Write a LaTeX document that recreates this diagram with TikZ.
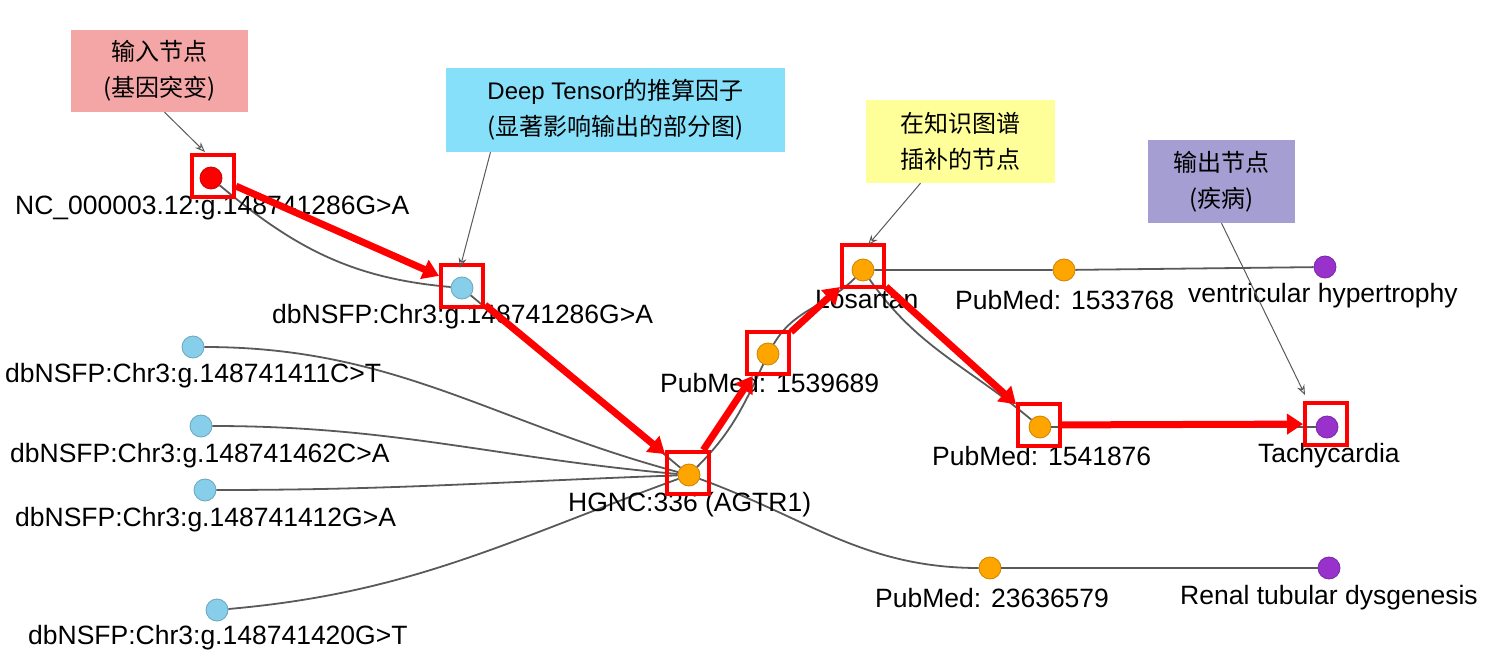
\documentclass[tikz,border=0pt]{standalone}
\usepackage{fontspec}
\setmainfont{Liberation Sans}
\newfontfamily\cjk{Noto Sans CJK SC}
\usetikzlibrary{arrows.meta}
\begin{document}
\begin{tikzpicture}[x=1pt,y=-1pt,
  every node/.style={font=\fontsize{26.5}{30}\selectfont},
  gnode/.style={circle,inner sep=0pt,minimum size=22pt,draw=#1!80!black,fill=#1,line width=0.8pt},
  lbl/.style={anchor=west,inner sep=0pt},
  edge/.style={draw=gray!70!black,line width=1.8pt},
  hl/.style={draw=red,line width=4pt,minimum size=42pt,inner sep=0pt},
  harrow/.style={draw=red,line width=7pt,-{Triangle[length=16pt,width=20pt]}},
  call/.style={draw=gray!70!black,line width=1pt,-{Stealth[length=10pt,width=8pt,open]}},
  cbox/.style={inner sep=0pt,align=center,font=\cjk\fontsize{24}{36}\selectfont}]
\definecolor{blu}{HTML}{87CEEB}
\definecolor{org}{HTML}{FFA500}
\definecolor{pur}{HTML}{9932CC}
\useasboundingbox (0,0) rectangle (1489,668);
% nodes
\node[gnode=red] (r) at (211,178) {};
\node[gnode=blu] (b1) at (462,288) {};
\node[gnode=blu] (b2) at (193,347) {};
\node[gnode=blu] (b3) at (201,426) {};
\node[gnode=blu] (b4) at (205,490) {};
\node[gnode=blu] (b5) at (217,610) {};
\node[gnode=org] (h) at (689,475) {};
\node[gnode=org] (p1) at (768,354) {};
\node[gnode=org] (lo) at (863,270) {};
\node[gnode=org] (p2) at (1064,270) {};
\node[gnode=pur] (v) at (1325,267) {};
\node[gnode=org] (p3) at (1040,427) {};
\node[gnode=pur] (t) at (1327,427) {};
\node[gnode=org] (p4) at (990,568) {};
\node[gnode=pur] (rn) at (1329,568) {};
% edges
\draw[edge] (r) to[out=-40,in=175] (b1);
\draw[edge] (b1) to[out=-40,in=140] (h);
\draw[edge] (b2) to[out=0,in=165] (h);
\draw[edge] (b3) to[out=0,in=175] (h);
\draw[edge] (b4) to[out=0,in=182] (h);
\draw[edge] (b5) to[out=5,in=200] (h);
\draw[edge] (h) to[out=45,in=-115] (p1);
\draw[edge] (p1) to[out=60,in=-135] (lo);
\draw[edge] (lo) -- (p2) -- (v);
\draw[edge] (lo) to[out=-55,in=140] (p3);
\draw[edge] (p3) -- (t);
\draw[edge] (h) to[out=-20,in=180] (p4);
\draw[edge] (p4) -- (rn);
% labels
\node[lbl] (lr) at (15,208) {NC\_000003.12:g.148741286G>A};
\node[lbl] (lb1) at (272,317) {dbNSFP:Chr3:g.148741286G>A};
\node[lbl] (lb2) at (5,376) {dbNSFP:Chr3:g.148741411C>T};
\node[lbl] (lb3) at (10,456) {dbNSFP:Chr3:g.148741462C>A};
\node[lbl] (lb4) at (15,520) {dbNSFP:Chr3:g.148741412G>A};
\node[lbl] (lb5) at (28,638) {dbNSFP:Chr3:g.148741420G>T};
\node[lbl] (lh) at (568,505) {HGNC:336 (AGTR1)};
\node[lbl] (lp1) at (660,383) {PubMed: 1539689};
\node[lbl] (llo) at (815,300) {Losartan};
\node[lbl] (lp2) at (955,300) {PubMed: 1533768};
\node[lbl] (lv) at (1188,296) {ventricular hypertrophy};
\node[lbl] (lp3) at (932,456) {PubMed: 1541876};
\node[lbl] (lt) at (1258,456) {Tachycardia};
\node[lbl] (lp4) at (875,598) {PubMed: 23636579};
\node[lbl] (lrn) at (1180,598) {Renal tubular dysgenesis};
% highlight boxes
\node[hl] (hr) at (213,176) {};
\node[hl] (hb1) at (462,286) {};
\node[hl] (hh) at (688,473) {};
\node[hl] (hp1) at (768,353) {};
\node[hl] (hlo) at (863,266) {};
\node[hl] (hp3) at (1039,425) {};
\node[hl] (ht) at (1326,424) {};
\draw[harrow] (hr) -- (hb1);
\draw[harrow] (hb1) -- (hh);
\draw[harrow] (hh) -- (hp1);
\draw[harrow] (hp1) -- (hlo);
\draw[harrow] (hlo) -- (hp3);
\draw[harrow] (hp3) -- (ht);
% callouts
\node[cbox,fill={rgb,255:red,244;green,166;blue,166},minimum width=177pt,minimum height=82pt] (c1) at (159.5,71) {输入节点\\(基因突变)};
\node[cbox,fill={rgb,255:red,135;green,224;blue,250},minimum width=339pt,minimum height=84pt] (c2) at (615.5,110) {\fontspec{Liberation Sans}Deep Tensor\cjk 的推算因子\\(显著影响输出的部分图)};
\node[cbox,fill={rgb,255:red,255;green,255;blue,153},minimum width=189pt,minimum height=83pt] (c3) at (960.5,141.5) {在知识图谱\\插补的节点};
\node[cbox,fill={rgb,255:red,165;green,158;blue,210},minimum width=147pt,minimum height=83pt] (c4) at (1221.5,181.5) {输出节点\\(疾病)};
\coordinate (e1) at (205,152);
\coordinate (e2) at (460,268);
\coordinate (e3) at (868,245);
\coordinate (e4) at (1305,395);
\draw[call] (c1.south) ++(5,0) -- (e1);
\draw[call] (c2.south) ++(-125,0) -- (e2);
\draw[call] (c3.south) ++(-40,0) -- (e3);
\draw[call] (c4.south) -- (e4);
\end{tikzpicture}
\end{document}
